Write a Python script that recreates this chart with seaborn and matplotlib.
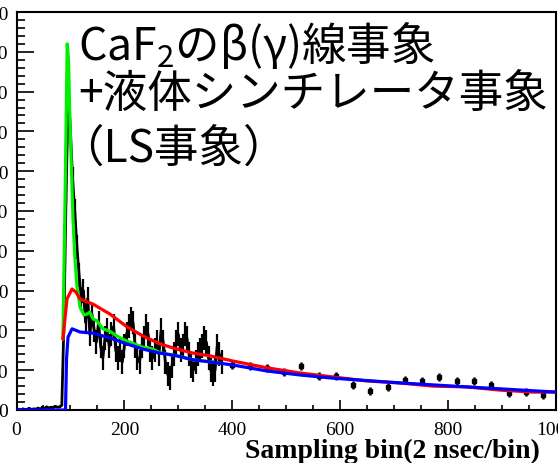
import numpy as np
import pandas as pd
import matplotlib
matplotlib.use("Agg")
import matplotlib.pyplot as plt
from matplotlib.ticker import MultipleLocator
import seaborn as sns

# ---- waveform data (sampling bin, amplitude) ----
# finely sampled part of the recorded waveform
dense_bin = np.arange(0, 384, 4)
dense_amp = [0.1, 0.2, 0.0, 0.3, 0.1, 0.2, 0.4, 0.1, 0.3, 0.2, 0.5, 0.2,
             0.6, 0.4, 0.8, 0.5, 0.7, 0.6, 0.9, 0.7, 0.8, 1.2,
             22, 55, 80, 70, 58, 50, 41, 34, 28, 30, 22, 28, 19, 24, 20, 17,
             22, 16, 13, 18, 20, 16, 19, 21, 15, 13, 15, 12, 16, 19, 21, 23,
             22, 16, 13, 12, 16, 18, 21, 19, 15, 13, 15, 17, 14, 20, 17, 12,
             9, 8, 11, 14, 17, 19, 15, 16, 19, 18, 14, 11, 10, 12, 14, 15,
             16, 18, 17, 13, 10, 9, 10, 16, 14, 12]
pre_trigger_err = 0.3
dense_err = 3.0

# coarsely sampled tail
tail_bin = [400, 432, 464, 496, 528, 560, 592, 624, 656, 688, 720, 752,
            784, 816, 848, 880, 912, 944, 976]
tail_amp = [11.3, 11.1, 10.6, 9.5, 11.1, 8.5, 8.5, 6.3, 4.8, 5.8, 7.5, 7.3,
            8.3, 7.3, 7.3, 6.3, 4.3, 4.5, 3.8]
tail_err = 1.0

# ---- model curves ----
green_bin = [86, 90, 94, 96.4, 99, 104.7, 108.4, 112, 117.7, 125, 130.7, 136,
             141.8, 149, 160, 173, 186, 197, 205, 234, 253, 266, 298, 327,
             359, 380]
green_amp = [17.8, 53, 92, 88, 73, 48, 37.9, 31.2, 25.9, 23.9, 24.1, 24.6,
             22.9, 22.4, 20.4, 19.8, 18.6, 17.8, 17.3, 15.8, 15.3, 14.4, 13.6,
             12.6, 12.1, 11.7]

red_bin = [86, 93.6, 102.9, 110.3, 117.7, 141.8, 173.3, 204.8, 234.5, 266,
           297.5, 327.2, 358.7, 401.3, 464.3, 525.5, 586.7, 649.7, 710.9, 772,
           835, 896, 957.4, 1000]
red_amp = [17.8, 27.9, 30.4, 29.6, 27.9, 26.6, 24.1, 20.9, 18.6, 16.6, 15.3,
           14.3, 13.6, 12.3, 10.6, 9.3, 8.3, 7.3, 6.8, 6.0, 5.8, 5.0, 4.5, 4.5]

blue_bin = [0, 90.8, 92.7, 95.5, 102.9, 117.7, 141.8, 173.3, 204.8, 234.5,
            266, 297.5, 327.2, 358.7, 401.3, 464.3, 525.5, 586.7, 710.9, 835,
            1000]
blue_amp = [0, 0, 12.8, 18.3, 20.4, 19.6, 19.3, 18.1, 16.6, 15.3, 14.3, 13.6,
            12.6, 12.1, 11.3, 9.8, 8.8, 8.0, 6.8, 5.8, 4.5]

x_ticks = [0, 200, 400, 600, 800, 1000]
y_ticks = list(range(0, 101, 10))
x_title = "Sampling bin(2 nsec/bin)"
note_lines = ["CaF$_\\mathregular{2}$のβ(γ)線事象", "+液体シンチレータ事象", "（LS事象）"]

sns.set_theme(style="ticks")
plt.rcParams["font.family"] = ["Liberation Serif", "DejaVu Serif"]
plt.rcParams["axes.linewidth"] = 1.5

W, H = 558, 464
fig = plt.figure(figsize=(W / 100, H / 100), dpi=100)
left, right, top, bottom = 16.5, 556, 13, 411
ax = fig.add_axes([left / W, 1 - bottom / H, (right - left) / W, (bottom - top) / H])

# recorded waveform: quiet baseline before the trigger, then the pulse
n_pre = 22
errs = [pre_trigger_err] * n_pre + [dense_err] * (len(dense_amp) - n_pre)
ax.errorbar(dense_bin, dense_amp, yerr=errs, color="black", lw=2.0,
            elinewidth=1.6, capsize=0, zorder=2)
ax.errorbar(tail_bin, tail_amp, yerr=tail_err, fmt="s", ms=2.5, color="black",
            elinewidth=1.8, capsize=0, zorder=2)

curves = pd.concat([
    pd.DataFrame({"bin": green_bin, "amp": green_amp, "comp": "green"}),
    pd.DataFrame({"bin": red_bin, "amp": red_amp, "comp": "red"}),
    pd.DataFrame({"bin": blue_bin, "amp": blue_amp, "comp": "blue"}),
])
palette = {"green": "#00f000", "red": "#ff0000", "blue": "#0000ff"}
for comp in ["green", "red", "blue"]:
    sns.lineplot(data=curves[curves["comp"] == comp], x="bin", y="amp",
                 color=palette[comp], lw=2.3, ax=ax, zorder=3,
                 sort=False, estimator=None)

ax.set_xlim(0, 1000)
ax.set_ylim(0, 100)
ax.set_xticks(x_ticks)
ax.set_yticks(y_ticks)
ax.xaxis.set_minor_locator(MultipleLocator(50))
ax.yaxis.set_minor_locator(MultipleLocator(2))
ax.tick_params(which="both", direction="in", top=False, right=False,
               labelsize=14, width=1.2, color="black", labelcolor="black")
ax.tick_params(axis="x", which="major", length=7, pad=8)
ax.tick_params(axis="x", which="minor", length=3.5)
ax.tick_params(axis="y", which="major", length=12, pad=6)
ax.tick_params(axis="y", which="minor", length=6)
for s in ax.spines.values():
    s.set_visible(True)
    s.set_color("black")
    s.set_linewidth(1.5)

ax.set_ylabel("")
ax.set_xlabel(x_title, fontsize=20, fontweight="bold", color="black")
ax.xaxis.set_label_coords((540 - left) / (right - left), -(458 - bottom) / (bottom - top))
ax.xaxis.label.set_ha("right")
ax.xaxis.label.set_va("baseline")

cjk = ["Noto Sans CJK JP", "DejaVu Sans"]
note_pos = [(78, 60), (78, 107), (59, 162)]
for txt, (px, py) in zip(note_lines, note_pos):
    fig.text(px / W, 1 - py / H, txt, fontsize=32, family=cjk, color="black",
             ha="left", va="baseline")

fig.savefig("out.png", dpi=100)
